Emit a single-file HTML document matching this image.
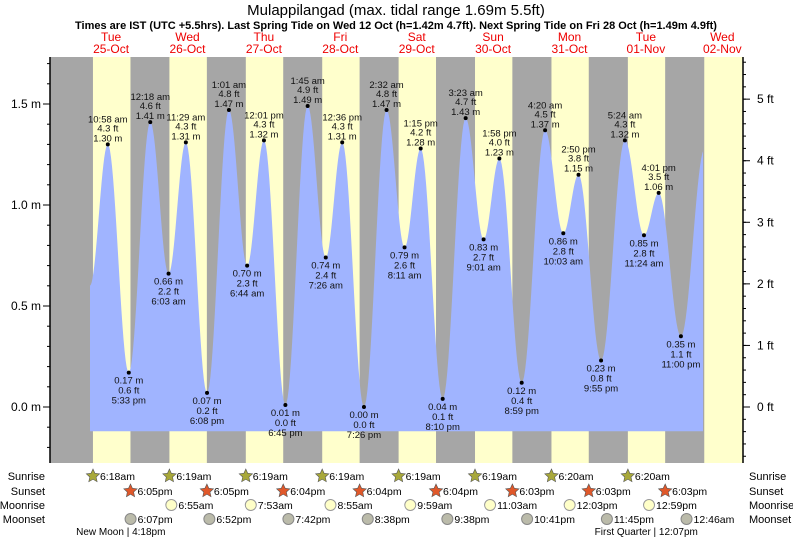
<!DOCTYPE html>
<html><head><meta charset="utf-8">
<style>
body{margin:0;background:#fff;}
svg{display:block;font-family:"Liberation Sans",sans-serif;}
</style></head>
<body>
<svg id="chart" width="793" height="539" viewBox="0 0 793 539" xmlns="http://www.w3.org/2000/svg">
<text x="396" y="15" text-anchor="middle" font-size="15">Mulappilangad (max. tidal range 1.69m 5.5ft)</text>
<text x="396" y="29" text-anchor="middle" font-size="11" font-weight="bold">Times are IST (UTC +5.5hrs). Last Spring Tide on Wed 12 Oct (h=1.42m 4.7ft). Next Spring Tide on Fri 28 Oct (h=1.49m 4.9ft)</text>
<g id="bands"></g>
<g id="tide" clip-path="url(#tclip)"></g>
<clipPath id="tclip"><rect x="90" y="50" width="613" height="420"/></clipPath>
<g id="axes"></g>
<g id="labels"></g>
<g id="days"></g>
<g id="astro"></g>
</svg>
<script>
const dayNames=["Tue","Wed","Thu","Fri","Sat","Sun","Mon","Tue","Wed"];
const dayDates=["25-Oct","26-Oct","27-Oct","28-Oct","29-Oct","30-Oct","31-Oct","01-Nov","02-Nov"];
const tideDay=[0,0,1,1,1,1,2,2,2,2,3,3,3,3,4,4,4,4,5,5,5,5,6,6,6,6,7,7,7,7];
const tideTime=["10:58am","5:33pm","12:18am","6:03am","11:29am","6:08pm","1:01am","6:44am","12:01pm","6:45pm","1:45am","7:26am","12:36pm","7:26pm","2:32am","8:11am","1:15pm","8:10pm","3:23am","9:01am","1:58pm","8:59pm","4:20am","10:03am","2:50pm","9:55pm","5:24am","11:24am","4:01pm","11:00pm"];
const tideHeight=[1.30,0.17,1.41,0.66,1.31,0.07,1.47,0.70,1.32,0.01,1.49,0.74,1.31,0.00,1.47,0.79,1.28,0.04,1.43,0.83,1.23,0.12,1.37,0.86,1.15,0.23,1.32,0.85,1.06,0.35];
const preDay=0, preTime="5:20am", preHeight=0.60;
const postDay=8, postTime="6:30am", postHeight=1.28;
const sunrise=["6:18am","6:19am","6:19am","6:19am","6:19am","6:19am","6:20am","6:20am","6:20am"];
const sunset=["6:05pm","6:05pm","6:04pm","6:04pm","6:04pm","6:03pm","6:03pm","6:03pm","6:03pm"];
const moonriseDay=[1,2,3,4,5,6,7];
const moonrise=["6:55am","7:53am","8:55am","9:59am","11:03am","12:03pm","12:59pm"];
const moonsetDay=[0,1,2,3,4,5,6,8];
const moonset=["6:07pm","6:52pm","7:42pm","8:38pm","9:38pm","10:41pm","11:45pm","12:46am"];
const mTicks=[0.0,0.5,1.0,1.5];
const ftTicks=[0,1,2,3,4,5];

const NS="http://www.w3.org/2000/svg";
const X0=72.9, DAYW=76.4, Y0=407, PXM=202, L=50, R=743, T=57, B=463;
function hrs(s){const m=s.match(/(\d+):(\d+)(am|pm)/);let h=+m[1]%12;if(m[3]=="pm")h+=12;return h+ +m[2]/60;}
function xt(d,s){return X0+DAYW*(d+hrs(s)/24);}
function ym(m){return Y0-PXM*m;}
function el(tag,attrs,parent,txt){const e=document.createElementNS(NS,tag);for(const k in attrs)e.setAttribute(k,attrs[k]);if(txt!==undefined)e.textContent=txt;document.getElementById(parent).appendChild(e);return e;}

let bg=el("rect",{x:L,y:T,width:R-L,height:B-T,fill:"#a6a6a6"},"bands");


for(let d=0;d<9;d++){
  const x1=xt(d,sunrise[d]);let x2=xt(d,sunset[d]);if(d==8)x2=R;
  const r=el("rect",{x:x1,y:T,width:Math.min(x2,R)-x1,height:B-T,fill:"#ffffcc"},"bands");
  
  
}
const pts=[[xt(preDay,preTime),preHeight]];
for(let i=0;i<tideDay.length;i++)pts.push([xt(tideDay[i],tideTime[i]),tideHeight[i]]);
pts.push([xt(postDay,postTime),postHeight]);
let dstr="M"+pts[0][0]+" "+ym(-0.12);
for(let i=0;i<pts.length-1;i++){
  const [xa,ha]=pts[i],[xb,hb]=pts[i+1];
  for(let k=0;k<=20;k++){const t=k/20;const h=ha+(hb-ha)*(1-Math.cos(Math.PI*t))/2;dstr+=" L"+(xa+(xb-xa)*t).toFixed(2)+" "+ym(h).toFixed(2);}
}
dstr+=" L"+pts[pts.length-1][0]+" "+ym(-0.12)+" Z";
const area=el("path",{d:dstr,fill:"#a0b4ff"},"tide");


const la=el("line",{x1:L,y1:T,x2:L,y2:B,stroke:"#000","stroke-width":1.5},"axes");


const ra=el("line",{x1:R,y1:T,x2:R,y2:B,stroke:"#000","stroke-width":1.5},"axes");


for(let v=-0.2;v<=1.75;v+=0.1){const y=ym(v);if(y<T||y>B)continue;el("line",{x1:L-3,y1:y,x2:L,y2:y,stroke:"#000"},"axes");}
mTicks.forEach(v=>{const y=ym(v);el("line",{x1:L-7,y1:y,x2:L,y2:y,stroke:"#000"},"axes");
  const t=el("text",{x:L-9,y:y+4,"text-anchor":"end","font-size":12},"axes",v.toFixed(1)+" m");
  
  });
for(let f=-1;f<=5.8;f+=0.2){const y=ym(f*0.3048);if(y<T||y>B)continue;el("line",{x1:R,y1:y,x2:R+3,y2:y,stroke:"#000"},"axes");}
ftTicks.forEach(f=>{const y=ym(f*0.3048);el("line",{x1:R,y1:y,x2:R+7,y2:y,stroke:"#000"},"axes");
  const t=el("text",{x:R+14,y:y+4,"font-size":12},"axes",f+" ft");
  
  });
for(let i=0;i<tideDay.length;i++){
  const x=xt(tideDay[i],tideTime[i]),h=tideHeight[i],y=ym(h);
  const hi=(i%2==0);
  const c=el("circle",{cx:x,cy:y,r:2,fill:"#000"},"labels");
  
  
  const tm=tideTime[i].replace(/(am|pm)/," $1");
  const ft=(h*3.28084).toFixed(1)+" ft", mm=h.toFixed(2)+" m";
  const lines=hi?[tm,ft,mm]:[mm,ft,tm];
  const offs=hi?[-22,-13,-3]:[11,21,31];
  lines.forEach((s,j)=>{const t=el("text",{x:x,y:y+offs[j],"text-anchor":"middle","font-size":9.5,fill:"#111"},"labels",s);
    
    });
}
for(let d=0;d<9;d++){
  const x=X0+DAYW*(d+0.5);
  const a=el("text",{x:x,y:41,"text-anchor":"middle","font-size":12,fill:"#e00"},"days",dayNames[d]);
  
  
  const b=el("text",{x:x,y:53,"text-anchor":"middle","font-size":12,fill:"#e00"},"days",dayDates[d]);
  
  
}
const rows=[["Sunrise",476],["Sunset",491],["Moonrise",505],["Moonset",519]];
rows.forEach(r=>{
  const a=el("text",{x:45,y:r[1]+4,"text-anchor":"end","font-size":11},"astro",r[0]);
  
  
  const b=el("text",{x:749,y:r[1]+4,"font-size":11},"astro",r[0]);
  
  
});
function star(cx,cy,fill){let p="";for(let k=0;k<10;k++){const r=k%2?3.3:7;const a=-Math.PI/2+k*Math.PI/5;p+=(cx+r*Math.cos(a)).toFixed(1)+","+(cy+r*Math.sin(a)).toFixed(1)+" ";}return el("polygon",{points:p,fill:fill,stroke:"#555","stroke-width":0.6},"astro");}
function lbl(x,y,s){const t=el("text",{x:x+7,y:y+4,"font-size":10.5},"astro",s);}
for(let d=0;d<8;d++){
  let x=xt(d,sunrise[d]);let s=star(x,476,"#a8a83a");
  
  
  lbl(x,476,sunrise[d]);
  x=xt(d,sunset[d]);s=star(x,491,"#e0582a");
  
  
  lbl(x,491,sunset[d]);
}
moonrise.forEach((m,i)=>{const x=xt(moonriseDay[i],m);const c=el("circle",{cx:x,cy:505,r:5.5,fill:"#ffffc8",stroke:"#999"},"astro");
  
  
  lbl(x,505,m);});
moonset.forEach((m,i)=>{const x=xt(moonsetDay[i],m);const c=el("circle",{cx:x,cy:519,r:5.5,fill:"#bbbbaa",stroke:"#888"},"astro");
  
  
  lbl(x,519,m);});
let t1=el("text",{x:xt(0,"4:18pm")-4,y:535,"text-anchor":"middle","font-size":10},"astro","New Moon | 4:18pm");


let t2=el("text",{x:xt(7,"12:07pm"),y:535,"text-anchor":"middle","font-size":10},"astro","First Quarter | 12:07pm");


</script>
</body></html>
